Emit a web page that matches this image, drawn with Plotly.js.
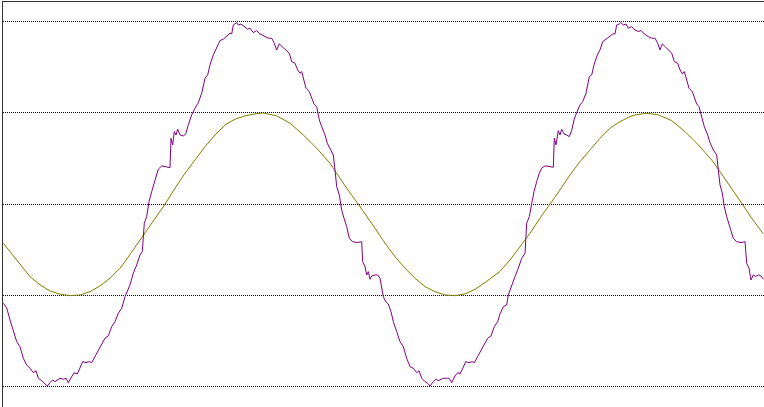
<!DOCTYPE html>
<html>
<head>
<meta charset="utf-8">
<script src="https://cdn.plot.ly/plotly-3.0.1.min.js"></script>
<style>html,body{margin:0;padding:0;background:#fff;}#chart{width:764px;height:407px;}</style>
</head>
<body>
<div id="chart"></div>
<script>
// Smooth reference wave (olive)
var olive_t = [3.3,10,20,30,40,50,60,70,80,90,100,110,120,125,135,145,155,165,175,185,195,205,215,225,235,245,255,263.3,276.7,290,303.3,316.7,330,346.7,358.3,368.3,375,385,395,405,415,425,435,445,455,465,475,485,495,500,510,520,530,540,550,560,570,580,590,600,610,620,630,635,646.7,658.3,671.7,685,698.3,711.7,718.3,731.7,741.7,751.7,763.3];
var olive_y = [-0.427,-0.519,-0.665,-0.793,-0.884,-0.950,-0.986,-1.002,-0.994,-0.958,-0.895,-0.811,-0.701,-0.629,-0.471,-0.318,-0.153,0.000,0.175,0.340,0.485,0.631,0.759,0.869,0.932,0.968,0.990,1.000,0.968,0.888,0.759,0.614,0.449,0.175,0.000,-0.153,-0.263,-0.427,-0.574,-0.701,-0.811,-0.903,-0.958,-0.994,-1.002,-0.983,-0.932,-0.859,-0.775,-0.736,-0.611,-0.471,-0.318,-0.153,0.000,0.157,0.321,0.467,0.595,0.723,0.833,0.905,0.960,0.979,0.997,0.979,0.916,0.796,0.650,0.485,0.384,0.175,0.011,-0.153,-0.325];

// Noisy wave (purple)
var purple_t = [3.3,6.7,10,13.3,16.7,20,23.3,26.7,30,33.3,36,38.3,41.7,45,47.3,50,52.7,55,60,63.3,66,68.3,71.7,74,77.3,80,82.7,86,89.3,91.7,95,98.3,101.7,105,108.3,111.7,115,118.3,121.7,125,130,133.3,136.7,140,142.3,144.3,146.7,149,151.7,155,158.3,161.7,166.7,170,171,172.7,174.3,176,177.7,180,183.3,185.7,188.3,191.7,195,198.3,201.7,205,207.7,210,213.3,216.7,220,223.3,226.7,230,231.7,233.3,236.7,238.3,241,244.3,247.7,250,253.3,256.7,260,264,268.3,271.7,274,276.7,279.3,282.7,286,289.3,291.7,295,297.7,300,301.7,304,306,309.3,311.7,314,316.7,319.3,321.7,325,327.3,330.7,333.3,335,336.7,339.3,341.7,344,346.7,349.3,352.7,357.3,361.7,362.7,365,366.7,368.3,370,371.7,375,377.7,380,381.7,383.3,385.7,388.3,391,393.3,396.7,400,403.3,406.7,410,413.3,416.7,419,421.7,425,427.7,430,433.3,435.7,438.3,443.3,446.7,449,451.7,455,457.7,460,463.3,465.7,469,472.3,474.3,477.7,481,484.3,487.7,491,494.3,497.7,500,503.3,506.7,508.3,511.7,515,518.3,521.7,525,526.7,529.3,531.7,534,536.7,539.3,541.7,545,550,553.3,554.3,556,558.3,560,561.7,564,566.7,569.3,571.7,574,576.7,580,582.7,586,589.3,591.7,594,597.3,600,602.7,606,610,612.7,615,616.7,619.3,620.7,623.3,626,628.3,631.7,635,638.3,641,644.3,648.3,651.7,655,657.7,660,662.3,665.7,669,671.7,674.3,677.7,680,682.3,684.3,686.7,689,692.3,694.3,696.7,699,701.7,704.3,707.7,710,713.3,716.7,718.3,720,722.3,724.3,726.7,730,733.3,736.7,741,745,746.7,749,751,753.3,755.7,758.3,761,763.3];
var purple_y = [-1.085,-1.136,-1.268,-1.378,-1.506,-1.561,-1.688,-1.762,-1.797,-1.846,-1.824,-1.907,-1.933,-1.969,-1.992,-1.955,-1.925,-1.944,-1.907,-1.918,-1.907,-1.955,-1.882,-1.846,-1.860,-1.797,-1.725,-1.736,-1.725,-1.736,-1.670,-1.597,-1.542,-1.468,-1.443,-1.341,-1.287,-1.195,-1.140,-1.013,-0.884,-0.756,-0.665,-0.556,-0.519,-0.208,-0.136,0.028,0.138,0.266,0.384,0.420,0.412,0.401,0.723,0.650,0.796,0.759,0.822,0.759,0.748,0.770,0.869,0.979,1.052,1.113,1.216,1.381,1.417,1.527,1.636,1.710,1.793,1.808,1.844,1.874,1.866,1.964,1.990,1.964,1.975,1.946,1.918,1.929,1.881,1.903,1.866,1.844,1.819,1.819,1.771,1.691,1.757,1.721,1.683,1.655,1.563,1.545,1.472,1.436,1.453,1.344,1.271,1.234,1.162,1.099,1.070,0.924,0.850,0.759,0.668,0.595,0.540,0.375,0.193,0.102,-0.064,-0.153,-0.245,-0.373,-0.410,-0.421,-0.410,-0.629,-0.684,-0.775,-0.739,-0.822,-0.786,-0.775,-0.775,-0.811,-0.903,-1.013,-1.067,-1.093,-1.177,-1.287,-1.396,-1.506,-1.561,-1.688,-1.780,-1.797,-1.846,-1.824,-1.907,-1.944,-1.962,-1.992,-1.944,-1.918,-1.933,-1.907,-1.907,-1.907,-1.955,-1.882,-1.846,-1.860,-1.786,-1.725,-1.736,-1.725,-1.736,-1.670,-1.597,-1.542,-1.468,-1.443,-1.341,-1.287,-1.202,-1.122,-1.104,-0.994,-0.903,-0.793,-0.701,-0.592,-0.537,-0.208,-0.136,0.018,0.138,0.248,0.340,0.395,0.420,0.412,0.405,0.723,0.650,0.807,0.759,0.822,0.770,0.759,0.741,0.807,0.924,1.004,1.088,1.124,1.216,1.398,1.417,1.527,1.636,1.691,1.782,1.808,1.844,1.866,1.866,1.964,1.975,1.990,1.964,1.975,1.929,1.946,1.910,1.892,1.903,1.866,1.837,1.819,1.819,1.764,1.691,1.757,1.721,1.683,1.655,1.563,1.545,1.472,1.428,1.453,1.344,1.271,1.234,1.162,1.099,1.070,0.942,0.850,0.759,0.675,0.595,0.540,0.375,0.212,0.121,-0.026,-0.136,-0.245,-0.373,-0.410,-0.421,-0.410,-0.647,-0.701,-0.830,-0.775,-0.793,-0.775,-0.786,-0.822];

var yTicks = [-2, -1, 0, 1, 2];

var traces = [
  {x: olive_t, y: olive_y, type: 'scatter', mode: 'lines',
   line: {color: '#808000', width: 1}, hoverinfo: 'skip'},
  {x: purple_t, y: purple_y, type: 'scatter', mode: 'lines',
   line: {color: '#800080', width: 1}, hoverinfo: 'skip'}
];

var layout = {
  width: 764, height: 407,
  margin: {l: 3, r: 0, t: 2, b: 0, pad: 0},
  paper_bgcolor: '#ffffff', plot_bgcolor: '#ffffff',
  showlegend: false,
  xaxis: {
    range: [3, 764], side: 'top', showline: true, linecolor: '#333', linewidth: 1,
    showgrid: false, zeroline: false, showticklabels: false, ticks: ''
  },
  yaxis: {
    range: [-2.222, 2.216], showline: true, linecolor: '#333', linewidth: 1,
    tickmode: 'array', tickvals: yTicks, showticklabels: false, ticks: '',
    showgrid: true, gridcolor: '#000', gridwidth: 1, griddash: '1px,1px', zeroline: false
  }
};

Plotly.newPlot('chart', traces, layout, {displayModeBar: false, staticPlot: true});
</script>
</body>
</html>
